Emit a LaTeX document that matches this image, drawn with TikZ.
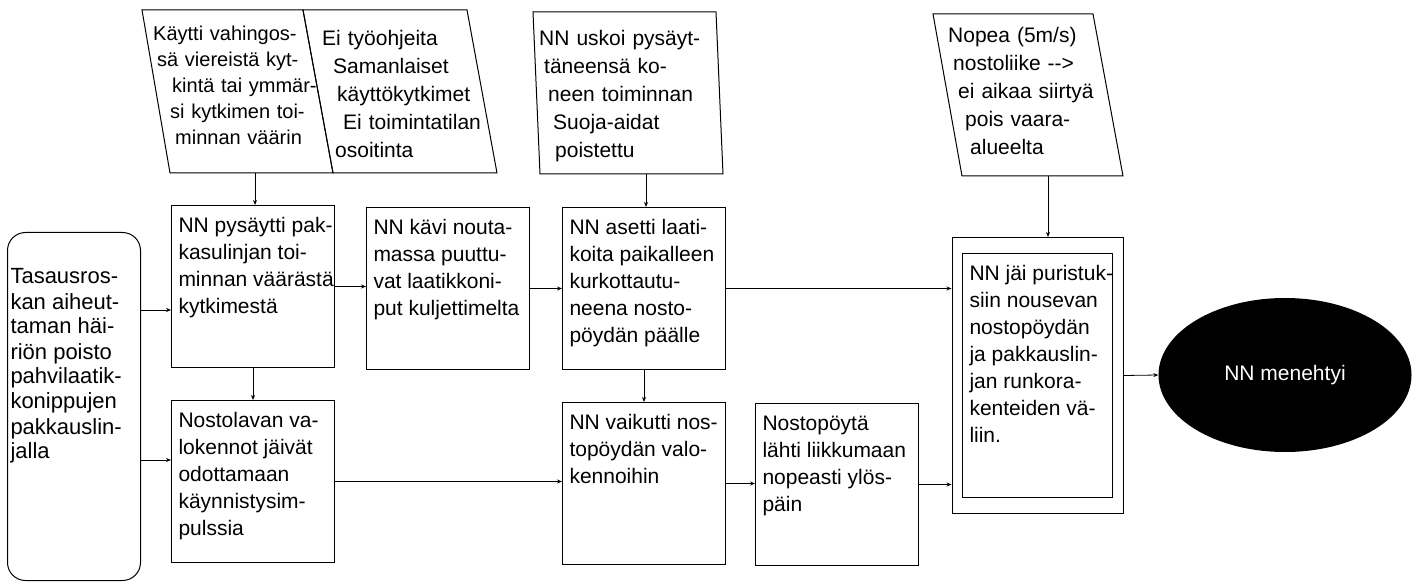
\documentclass[tikz,border=0pt]{standalone}
\usepackage{fontspec}
\setmainfont{Liberation Sans}
\usetikzlibrary{shapes.geometric,positioning,fit,arrows.meta}
\tikzset{>={Stealth[length=5pt,width=4pt]}}
\newcommand{\boxfont}{\fontsize{21}{27}\selectfont}
\newcommand{\notefont}{\fontsize{21}{28}\selectfont}
\newcommand{\boxtext}[3]{\parbox[t][#2][t]{#1}{\begin{tabular}[t]{@{}l@{}}#3\end{tabular}}}
\tikzset{
	box/.style={draw, line width=1pt, inner xsep=7pt, inner ysep=8pt, anchor=north west, font=\boxfont},
	rbox/.style={box, rounded corners=18pt, inner xsep=3pt, inner ysep=34pt, font=\fontsize{22}{25}\selectfont},
	note/.style={anchor=north west, inner sep=0pt, text width=190pt, align=left, font=\notefont},
	slant/.style={draw, line width=1pt},
	endstate/.style={ellipse, fill=black, text=white, minimum width=253pt, minimum height=154pt, inner sep=0pt, font=\fontsize{21}{25}\selectfont},
	link/.style={->, line width=0.8pt}
}

\begin{document}
\begin{tikzpicture}[x=1pt,y=-1pt]
				\useasboundingbox (0,0) rectangle (1416,585);
				% slanted notes
				\draw[slant] (142,10) -- (303,10) -- (333,173) -- (170,173) -- cycle;
				\draw[slant] (303,10) -- (467,10) -- (497,173) -- (333,173) -- cycle;
				\draw[slant] (533,12) -- (716,12) -- (723,174) -- (540,174) -- cycle;
				\draw[slant] (933,14) -- (1093,14) -- (1123,176) -- (962,176) -- cycle;
				\node[note, font=\fontsize{20}{26}\selectfont] (p1) at (153,21.8) {\strut Käytti vahingos-\\\hspace*{4pt}sä viereistä kyt-\\\hspace*{19pt}kintä tai ymmär-\\\hspace*{17pt}si kytkimen toi-\\\hspace*{22pt}minnan väärin};
				\node[note] (p2) at (322,25.4) {\strut Ei työohjeita\\\hspace*{11pt}Samanlaiset\\\hspace*{15pt}käyttökytkimet\\\hspace*{21pt}Ei toimintatilan\\\hspace*{13pt}osoitinta};
				\node[note] (p3) at (539,25.4) {\strut NN uskoi pysäyt-\\\hspace*{5pt}täneensä ko-\\\hspace*{9pt}neen toiminnan\\\hspace*{14pt}Suoja-aidat\\\hspace*{16pt}poistettu};
				\node[note] (p4) at (948,22.4) {\strut Nopea (5m/s)\\\hspace*{5pt}nostoliike -{}->\\\hspace*{10pt}ei aikaa siirtyä\\\hspace*{17pt}pois vaara-\\\hspace*{22pt}alueelta};
				\coordinate (p1b) at (255,173);
				\coordinate (p3b) at (646,174);
				\coordinate (p4b) at (1048,176);
				% boxes
				\node[rbox] (r) at (7,232) {\boxtext{127pt}{280pt}{Tasausros-\\kan aiheut-\\taman häi-\\riön poisto\\pahvilaatik-\\konippujen\\pakkauslin-\\jalla}};
				\node[box] (a) at (171,205) {\boxtext{149pt}{146pt}{NN pysäytti pak-\\kasulinjan toi-\\minnan väärästä\\kytkimestä}};
				\node[box] (b) at (366,207) {\boxtext{149pt}{146pt}{NN kävi nouta-\\massa puuttu-\\vat laatikkoni-\\put kuljettimelta}};
				\node[box] (c) at (562,207) {\boxtext{149pt}{146pt}{NN asetti laati-\\koita paikalleen\\kurkottautu-\\neena nosto-\\pöydän päälle}};
				\node[box] (d) at (171,400) {\boxtext{149pt}{146pt}{Nostolavan va-\\lokennot jäivät\\odottamaan\\käynnistysim-\\pulssia}};
				\node[box] (e) at (562,402) {\boxtext{149pt}{146pt}{NN vaikutti nos-\\topöydän valo-\\kennoihin}};
				\node[box] (f) at (755,403) {\boxtext{149pt}{146pt}{Nostopöytä\\lähti liikkumaan\\nopeasti ylös-\\päin}};
				\node[box] (g) at (962,253) {\boxtext{136pt}{228pt}{NN jäi puristuk-\\siin nousevan\\nostopöydän\\ja pakkauslin-\\jan runkora-\\kenteiden vä-\\liin.}};
				\node[draw, line width=1pt, fit=(g), inner xsep=10pt, inner ysep=15.5pt] (gg) {};
				\node[endstate] (m) at (1285,375) {NN menehtyi};
				\coordinate (r1) at (140,310);
				\coordinate (r2) at (140,460);
				% connectors
				\draw[link] (p1b) -- (p1b |- a.north);
				\draw[link] (p3b) -- (p3b |- c.north);
				\draw[link] (p4b) -- (p4b |- gg.north);
				\draw[link] (r1) -- (r1 -| a.west);
				\draw[link] (r2) -- (r2 -| d.west);
				\draw[link] (a.east) -- (a.east -| b.west);
				\draw[link] (b.east) -- (b.east -| c.west);
				\draw[link] (c.east) -- (c.east -| gg.west);
				\draw[link] (a.south) -- (a.south |- d.north);
				\draw[link] (c.south) -- (c.south |- e.north);
				\draw[link] (d.east) -- (d.east -| e.west);
				\draw[link] (e.east) -- (e.east -| f.west);
				\draw[link] (f.east) -- (f.east -| gg.west);
				\draw[link] (gg.east) -- (m.west);
\end{tikzpicture}
\end{document}
